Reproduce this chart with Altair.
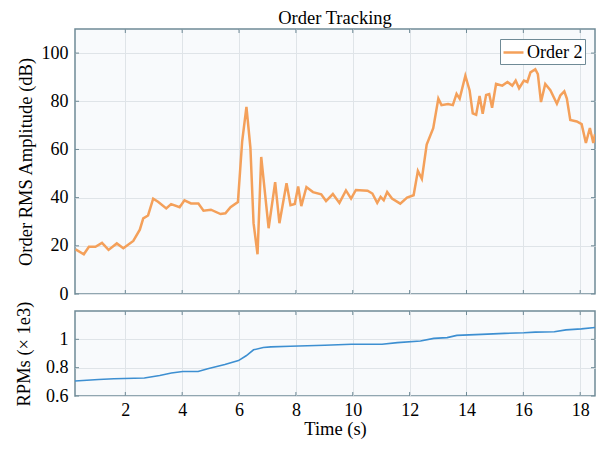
import altair as alt
import pandas as pd

# ---- Order 2 amplitude (dB) vs time (s)
time_top = [0.25, 0.54, 0.72, 0.95, 1.18, 1.41, 1.70, 1.93, 2.28, 2.51, 2.63, 2.80, 2.98, 3.15, 3.44, 3.61,
            3.91, 4.08, 4.31, 4.57, 4.75, 5.01, 5.35, 5.52, 5.70, 5.96, 6.11, 6.26, 6.40, 6.51, 6.65, 6.78,
            7.04, 7.27, 7.42, 7.67, 7.81, 7.96, 8.08, 8.19, 8.37, 8.60, 8.89, 9.06, 9.30, 9.53, 9.76, 9.94,
            10.11, 10.52, 10.69, 10.86, 10.98, 11.09, 11.21, 11.38, 11.67, 11.91, 12.14, 12.29, 12.43, 12.60,
            12.83, 13.01, 13.12, 13.35, 13.52, 13.65, 13.76, 13.96, 14.11, 14.22, 14.34, 14.46, 14.57, 14.69,
            14.80, 14.90, 15.04, 15.26, 15.44, 15.61, 15.73, 15.85, 16.02, 16.14, 16.25, 16.42, 16.51, 16.62,
            16.77, 16.95, 17.18, 17.30, 17.44, 17.53, 17.65, 17.88, 18.05, 18.20, 18.34, 18.46, 18.52]
amp_db = [18.5, 16.5, 19.6, 19.6, 21.2, 18.3, 21.0, 19.0, 22.0, 26.7, 31.4, 32.6, 39.6, 38.3, 35.5, 37.3,
          36.0, 38.9, 37.6, 37.6, 34.6, 35.0, 33.2, 33.5, 36.0, 38.2, 63.4, 77.7, 60.7, 29.4, 16.5, 56.9,
          27.3, 46.4, 29.4, 46.0, 36.9, 37.4, 44.6, 36.5, 44.4, 42.3, 41.4, 38.6, 41.5, 37.8, 43.0, 39.6,
          43.2, 42.9, 41.7, 37.8, 40.3, 38.9, 42.3, 39.6, 37.5, 40.0, 41.0, 51.1, 47.8, 62.0,
          68.8, 81.1, 78.4, 78.9, 78.4, 83.1, 81.1, 90.6, 84.5, 75.0, 74.4, 82.2, 74.8, 82.6,
          83.0, 77.3, 87.2, 86.5, 88.0, 86.5, 88.6, 85.4, 88.6, 88.0, 92.0, 93.3, 91.3, 79.7,
          87.2, 84.6, 79.0, 82.4, 84.1, 81.1, 72.2, 71.6, 70.5, 62.7, 68.9, 62.7, 66.3]

# ---- RPM (x 1e3) vs time (s)
time_rpm = [0.23, 1.06, 1.60, 2.67, 3.21, 3.62, 4.02, 4.56, 4.90, 5.50, 5.98, 6.25, 6.51, 6.85, 7.12, 7.80,
            9.01, 9.95, 11.03, 11.57, 12.38, 12.85, 13.32, 13.66, 14.53, 15.34, 16.02, 16.42, 17.09, 17.50,
            18.04, 18.52]
rpm_k = [0.706, 0.716, 0.722, 0.727, 0.745, 0.762, 0.773, 0.773, 0.792, 0.822, 0.850, 0.884, 0.926, 0.942,
         0.947, 0.951, 0.958, 0.965, 0.965, 0.977, 0.988, 1.007, 1.012, 1.028, 1.035, 1.042, 1.046, 1.051,
         1.053, 1.067, 1.074, 1.084]

x_ticks = [2, 4, 6, 8, 10, 12, 14, 16, 18]
y_ticks_top = [0, 20, 40, 60, 80, 100]
y_ticks_bot = [0.6, 0.8, 1.0]
series_name = "Order 2"

FONT = "Liberation Serif"
FRAME = "#6f8a96"
GRID = "#dfe4e8"
ORANGE = "#f4a05a"
BLUE = "#3d8fd1"
XDOM = [0.23, 18.52]
W, H1, H2 = 520, 265, 85
TICK = 4
LBL = 18
TTL = 18.5

top_df = pd.DataFrame({"t": time_top, "amp": amp_db, "series": series_name})
rpm_df = pd.DataFrame({"t": time_rpm, "rpm": rpm_k})
xt_df = pd.DataFrame({"v": x_ticks})
yt_top_df = pd.DataFrame({"v": y_ticks_top})
yt_bot_df = pd.DataFrame({"v": y_ticks_bot})

xscale = alt.Scale(domain=XDOM, nice=False, zero=False)
yscale_top = alt.Scale(domain=[0, 110], nice=False)
yscale_bot = alt.Scale(domain=[0.6, 1.2], nice=False)

ax_x_top = alt.Axis(values=x_ticks, labels=False, title=None, grid=True, ticks=False, domain=False,
                    labelPadding=0, minExtent=0, maxExtent=0)
ax_y_top = alt.Axis(values=y_ticks_top, title="Order RMS Amplitude (dB)", grid=True, ticks=False,
                    domain=False, labelPadding=7, titlePadding=6)
ax_x_bot = alt.Axis(values=x_ticks, title="Time (s)", grid=True, ticks=False, domain=False,
                    labelPadding=5, titlePadding=0)
ax_y_bot = alt.Axis(values=y_ticks_bot, format=".1~f", title="RPMs (× 1e3)", grid=True, ticks=False,
                    domain=False, labelPadding=7, titlePadding=12)


def inward_ticks(yt_df, yscale, h, ax_x, ax_y):
    xs = alt.X("v:Q", scale=xscale, axis=ax_x)
    ys = alt.Y("v:Q", scale=yscale, axis=ax_y)
    return [
        alt.Chart(xt_df).mark_rule(color=FRAME, strokeWidth=1).encode(x=xs, y=alt.value(0), y2=alt.value(TICK)),
        alt.Chart(xt_df).mark_rule(color=FRAME, strokeWidth=1).encode(x=xs, y=alt.value(h), y2=alt.value(h - TICK)),
        alt.Chart(yt_df).mark_rule(color=FRAME, strokeWidth=1).encode(y=ys, x=alt.value(0), x2=alt.value(TICK)),
        alt.Chart(yt_df).mark_rule(color=FRAME, strokeWidth=1).encode(y=ys, x=alt.value(W), x2=alt.value(W - TICK)),
    ]


top_line = alt.Chart(top_df).mark_line(strokeWidth=2.5, clip=True).encode(
    x=alt.X("t:Q", scale=xscale, axis=ax_x_top),
    y=alt.Y("amp:Q", scale=yscale_top, axis=ax_y_top),
    color=alt.Color("series:N", scale=alt.Scale(range=[ORANGE]),
                    legend=alt.Legend(orient="top-right", title=None, offset=10, symbolType="stroke",
                                      symbolStrokeWidth=2.5, symbolSize=400, strokeColor=FRAME,
                                      fillColor="white", padding=2, labelFont=FONT, labelFontSize=LBL,
                                      labelColor="black", labelOffset=2)),
)

top = alt.layer(top_line, *inward_ticks(yt_top_df, yscale_top, H1, ax_x_top, ax_y_top)).properties(
    width=W, height=H1,
    title=alt.TitleParams("Order Tracking", font=FONT, fontSize=TTL, fontWeight="normal", color="black",
                          offset=1),
)

bot_line = alt.Chart(rpm_df).mark_line(strokeWidth=1.6, color=BLUE, clip=True).encode(
    x=alt.X("t:Q", scale=xscale, axis=ax_x_bot),
    y=alt.Y("rpm:Q", scale=yscale_bot, axis=ax_y_bot),
)

bot = alt.layer(bot_line, *inward_ticks(yt_bot_df, yscale_bot, H2, ax_x_bot, ax_y_bot)).properties(
    width=W, height=H2)

chart = alt.vconcat(top, bot, spacing=17, bounds="flush").properties(
    padding={"left": 5, "top": 0, "right": 0, "bottom": 0},
    background="white",
).configure_view(
    stroke=FRAME, strokeWidth=1.5, fill="#f8fafc"
).configure_axis(
    labelFont=FONT, labelFontSize=LBL, labelColor="black",
    titleFont=FONT, titleFontSize=TTL, titleColor="black", titleFontWeight="normal",
    gridColor=GRID, gridWidth=1,
)

chart.save("out.html", embed_options={"renderer": "svg", "actions": False})
